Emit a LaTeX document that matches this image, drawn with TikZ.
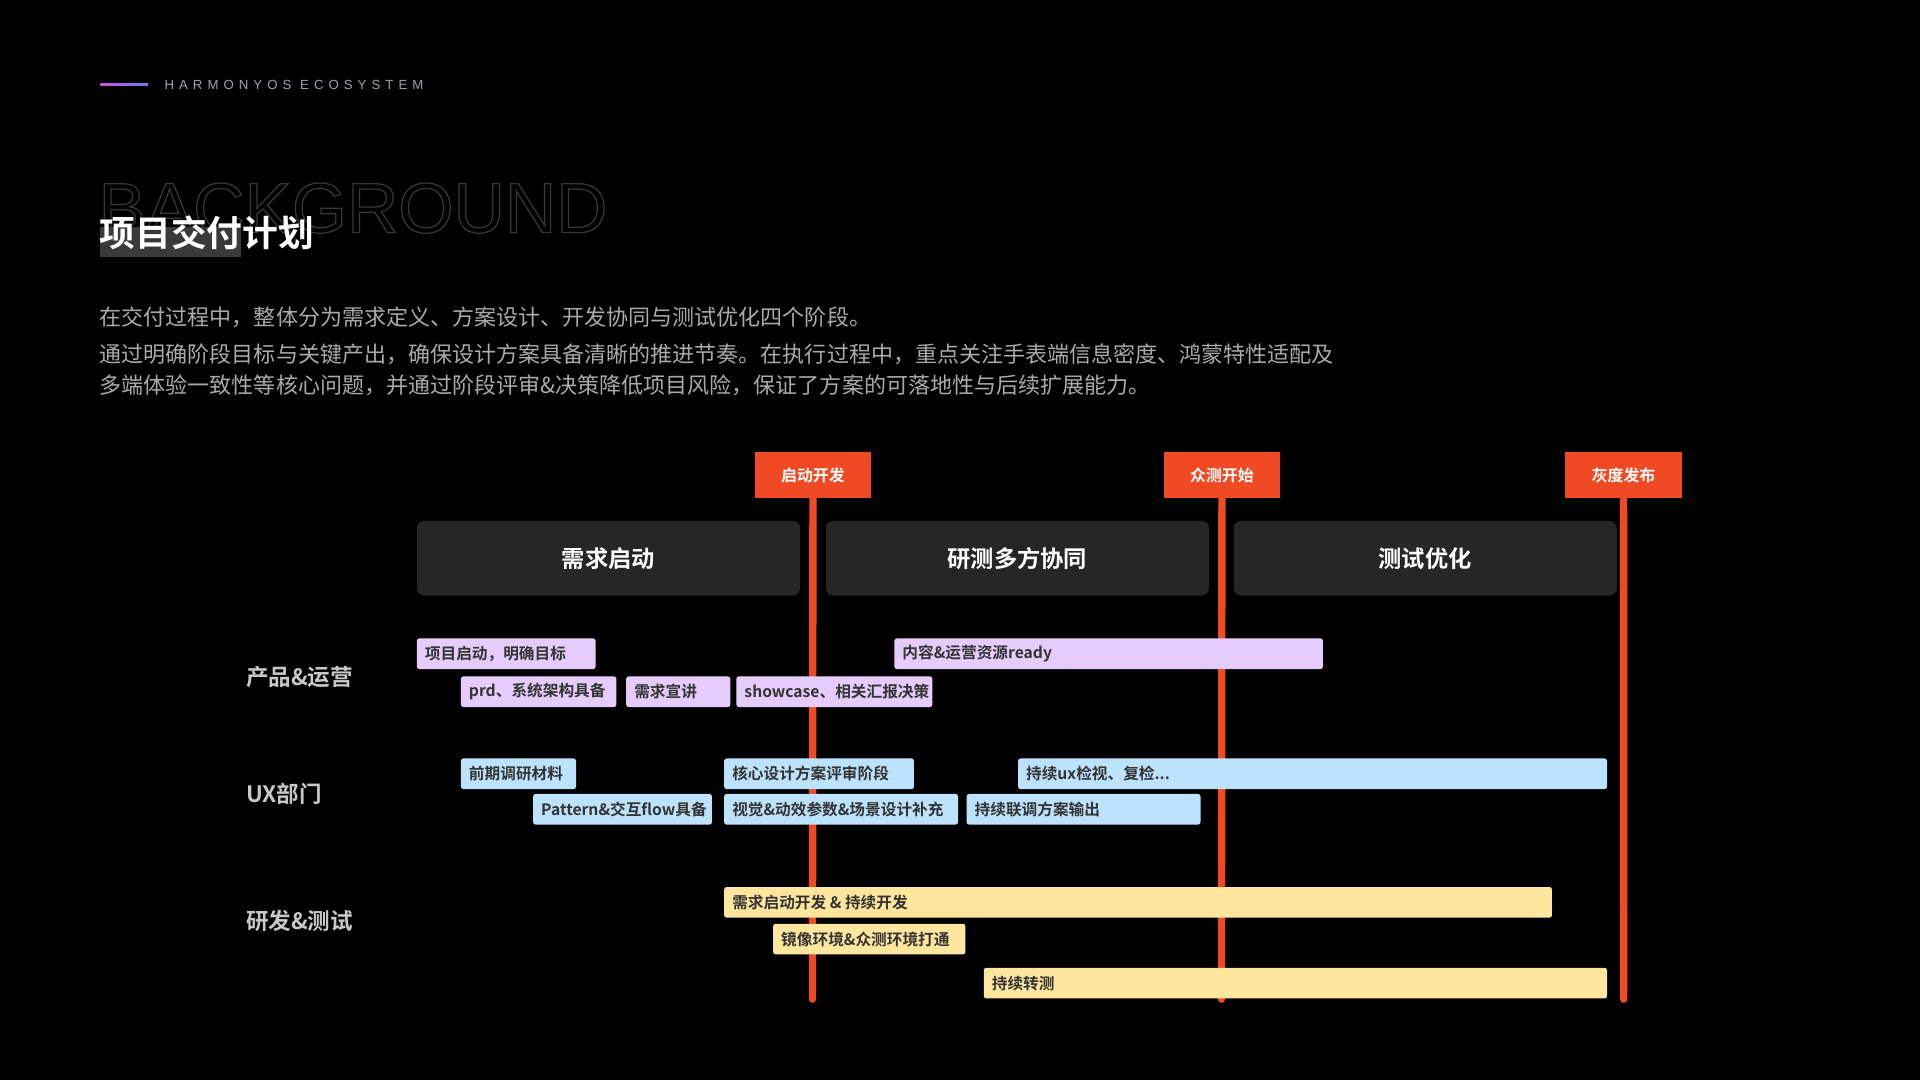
\documentclass[tikz,border=0pt]{standalone}
\usepackage{fontspec}
\setmainfont{Noto Sans CJK SC}[BoldFont={Noto Sans CJK SC Bold}]
\newfontfamily\latinf{Liberation Sans}
\newfontfamily\spacedf{Liberation Sans}[LetterSpace=38]
\definecolor{bg}{HTML}{000000}
\definecolor{redm}{HTML}{F04A24}
\definecolor{hdr}{HTML}{262626}
\definecolor{pur}{HTML}{E5CCFA}
\definecolor{blu}{HTML}{BDE3FC}
\definecolor{yel}{HTML}{FFE69E}
\definecolor{txt}{HTML}{333333}
\definecolor{rowc}{HTML}{C8C8C8}
\definecolor{ecoc}{HTML}{A0A0AA}
\definecolor{hil}{HTML}{3A3A3A}
\definecolor{parc}{HTML}{AAAAAA}
\definecolor{gl}{HTML}{BE5AE6}
\definecolor{gr}{HTML}{786EF0}
\begin{document}
\begin{tikzpicture}[x=0.5pt,y=-0.5pt,
  task/.style={anchor=north west,inner sep=0pt,rounded corners=1pt},
  hd/.style={anchor=north west,fill=hdr,rounded corners=3pt,inner sep=0pt,minimum width=156.5pt,minimum height=30.5pt,text=white,font=\bfseries\fontsize{9.5pt}{11pt}\selectfont},
  ms/.style={anchor=north west,fill=redm,inner sep=0pt,minimum width=47.5pt,minimum height=18.5pt,text=white,font=\bfseries\fontsize{6.5pt}{7pt}\selectfont},
  row/.style={anchor=west,text=rowc,font=\bfseries\fontsize{9.2pt}{11pt}\selectfont},
  vline/.style={redm,line width=3pt,line cap=round}]
\fill[bg] (0,0) rectangle (1568,882);
\useasboundingbox (0,0) rectangle (1568,882);
% header
\shade[left color=gl,right color=gr] (82,68.3) rectangle (121,69.7);
\node[anchor=west,inner sep=0pt,text=ecoc,font=\spacedf\fontsize{5.4pt}{6pt}\selectfont] (eco) at (134,69) {HARMONYOS ECOSYSTEM};
% title
\node[anchor=west,inner sep=0pt,font=\latinf\fontsize{29pt}{31pt}\selectfont] (bgw) at (80,170) {\special{pdf:literal direct 1 Tr 0.5 w 0.22 0.22 0.22 RG}BACKGROUND\special{pdf:literal direct 0 Tr}};
\fill[hil] (82,185) rectangle (197,210);
\node[anchor=west,inner sep=0pt,text=white,font=\bfseries\fontsize{14.6pt}{16pt}\selectfont] (title) at (81,190) {项目交付计划};
% paragraph
\begin{scope}[every node/.style={anchor=west,inner sep=0pt,text=parc,font=\fontsize{9pt}{10pt}\selectfont}]
\node (p1) at (81,259) {在交付过程中，整体分为需求定义、方案设计、开发协同与测试优化四个阶段。};
\node (p2) at (81,289) {通过明确阶段目标与关键产出，确保设计方案具备清晰的推进节奏。在执行过程中，重点关注手表端信息密度、鸿蒙特性适配及};
\node (p3) at (81,315) {多端体验一致性等核心问题，并通过阶段评审\&决策降低项目风险，保证了方案的可落地性与后续扩展能力。};
\end{scope}
% milestones
\node[ms] (m1) at (616,369) {启动开发};
\node[ms] (m2) at (950,369) {众测开始};
\node[ms] (m3) at (1278,369) {灰度发布};
\coordinate (e1) at (663.5,816);
\coordinate (e2) at (997.5,816);
\coordinate (e3) at (1326,816);
\draw[vline] (m1.south) -- (e1);
\draw[vline] (m2.south) -- (e2);
\draw[vline] (m3.south) -- (e3);
% phase headers
\node[hd] (h1) at (340,425) {需求启动};
\node[hd] (h2) at (674,425) {研测多方协同};
\node[hd] (h3) at (1007,425) {测试优化};
% row labels
\node[row] (r1) at (194,553) {产品\&运营};
\node[row] (r2) at (194,648) {UX部门};
\node[row] (r3) at (194,752) {研发\&测试};
% tasks
\newcommand{\tk}[6]{\node[task,fill=#2,minimum width=(#4-#3)*0.5pt,minimum height=12.5pt] (#1) at (#3,#5) {};
  \node[anchor=west,inner sep=0pt,text=txt,font=\bfseries\fontsize{6.4pt}{7pt}\selectfont] at ([xshift=3.3pt]#1.west) {#6};}
\tk{a1}{pur}{340}{486}{521}{项目启动，明确目标}
\tk{a2}{pur}{730}{1080}{521}{内容\&运营资源ready}
\tk{a3}{pur}{376}{503}{552}{prd、系统架构具备}
\tk{a4}{pur}{511}{596}{552}{需求宣讲}
\tk{a5}{pur}{601}{761}{552}{showcase、相关汇报决策}
\tk{b1}{blu}{376}{470}{619}{前期调研材料}
\tk{b2}{blu}{591}{746}{619}{核心设计方案评审阶段}
\tk{b3}{blu}{831}{1312}{619}{持续ux检视、复检...}
\tk{b4}{blu}{435}{581}{648}{Pattern\&交互flow具备}
\tk{b5}{blu}{591}{782}{648}{视觉\&动效参数\&场景设计补充}
\tk{b6}{blu}{789}{980}{648}{持续联调方案输出}
\tk{c1}{yel}{591}{1267}{724}{需求启动开发 \& 持续开发}
\tk{c2}{yel}{631}{788}{754}{镜像环境\&众测环境打通}
\tk{c3}{yel}{803}{1312}{790}{持续转测}
\end{tikzpicture}
\end{document}
